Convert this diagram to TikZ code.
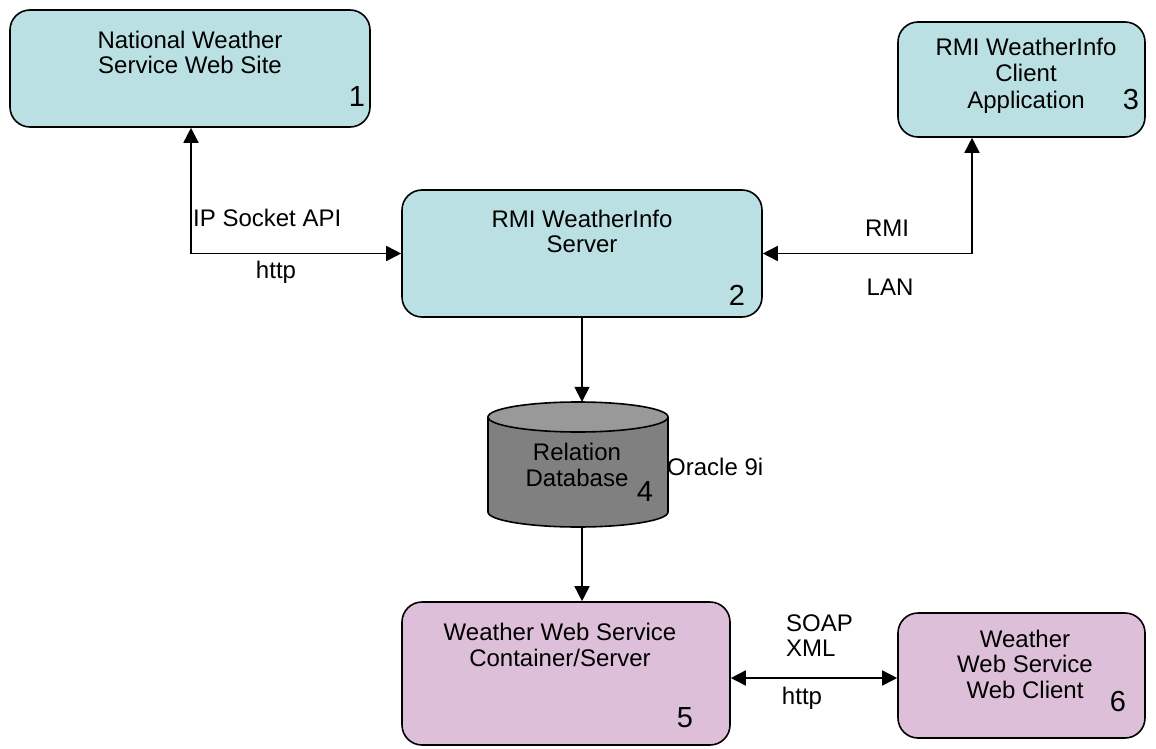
\documentclass[tikz,border=0pt]{standalone}
\usepackage{fontspec}
\setmainfont{Liberation Sans}
\usetikzlibrary{arrows.meta}
\definecolor{teal1}{HTML}{BBE0E3}
\definecolor{mauve1}{HTML}{DDBFD9}
\definecolor{dbbody}{HTML}{808080}
\definecolor{dbtop}{HTML}{999999}
\tikzset{
  boxnode/.style={draw=black, line width=1.6pt, rounded corners=20pt, inner sep=0pt},
  tealbox/.style={boxnode, fill=teal1},
  mauvebox/.style={boxnode, fill=mauve1},
  txt/.style={inner sep=0pt, align=center, font=\fontsize{24}{25.5}\selectfont},
  num/.style={inner sep=0pt, font=\fontsize{29}{30}\selectfont},
  conn/.style={line width=1.6pt, {Triangle[length=15pt,width=15pt]}-{Triangle[length=15pt,width=15pt]}},
  conn1/.style={line width=1.6pt, -{Triangle[length=15pt,width=15pt]}}
}
\begin{document}
\begin{tikzpicture}[x=1pt,y=-1pt]
\useasboundingbox[fill=white] (0,0) rectangle (1156,749);
% boxes
\node[tealbox, minimum width=360pt, minimum height=117pt] (b1) at (190,68.5) {};
\node[tealbox, minimum width=247pt, minimum height=115pt] (b3) at (1021.5,79.5) {};
\node[tealbox, minimum width=360pt, minimum height=127pt] (b2) at (582,253.5) {};
\node[mauvebox, minimum width=328pt, minimum height=143pt] (b5) at (566,673.5) {};
\node[mauvebox, minimum width=247pt, minimum height=125pt] (b6) at (1021.5,675.5) {};
% database cylinder
\node[inner sep=0pt, minimum width=180pt, minimum height=125pt] (db) at (578,464.5) {};
\fill[dbbody] (488,417) -- (488,512) arc (180:0:90 and 15) -- (668,417) -- cycle;
\draw[line width=1.6pt] (488,417) -- (488,512) arc (180:0:90 and 15) -- (668,417);
\draw[line width=1.6pt, fill=dbtop] (578,417) ellipse [x radius=90, y radius=15];
% texts in boxes
\node[txt] (t1) at (190,52.5) {National Weather\\Service Web Site};
\node[num] (n1) at (357,97) {1};
\node[txt, font=\fontsize{24}{26.5}\selectfont] (t3) at (1026,75.5) {RMI WeatherInfo\\Client\\Application};
\node[num] (n3) at (1131,100) {3};
\node[txt] (t2) at (582,231.5) {RMI WeatherInfo\\Server};
\node[num] (n2) at (737,295) {2};
\node[txt] (t4) at (577,465) {Relation\\Database};
\node[num] (n4) at (645,492) {4};
\node[txt, anchor=west] (o4) at (667,467) {Oracle 9i};
\node[txt] (t5) at (560,645) {Weather Web Service\\Container/Server};
\node[num] (n5) at (685,718) {5};
\node[txt] (t6) at (1025,664) {Weather\\Web Service\\Web Client};
\node[num] (n6) at (1118,702) {6};
% connectors
\coordinate (k1) at (191,254);
\coordinate (k2) at (972,254);
\coordinate (k4) at (0,678);
\draw[conn] (b1.south -| k1) |- (b2.west);
\draw[conn] (b3.south -| k2) |- (b2.east);
\draw[conn1] (b2.south) -- (b2.south |- db.north);
\draw[conn1] (b2.south |- db.south) -- (b2.south |- b5.north);
\draw[conn] (b5.east |- k4) -- (b6.west |- k4);
% connector labels
\node[txt, anchor=west] (l1) at (193,218) {IP Socket API};
\node[txt] (l2) at (276,272) {http};
\node[txt] (l3) at (887,228) {RMI};
\node[txt] (l4) at (890,287) {LAN};
\node[txt, anchor=west] (l5) at (786,623) {SOAP};
\node[txt, anchor=west] (l6) at (786,648) {XML};
\node[txt] (l7) at (802,698) {http};
\end{tikzpicture}
\end{document}
